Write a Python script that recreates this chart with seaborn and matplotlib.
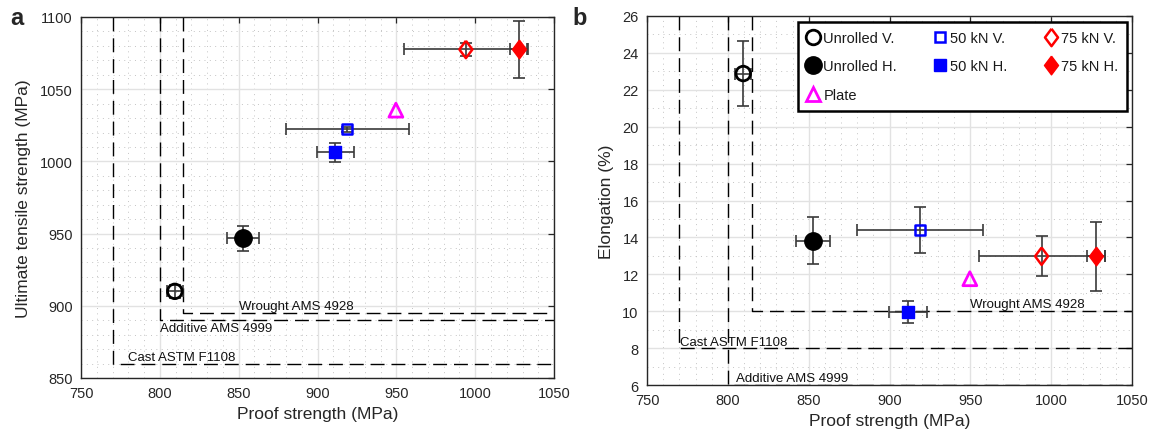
import numpy as np
import matplotlib
matplotlib.use("Agg")
import matplotlib.pyplot as plt
from matplotlib.ticker import MultipleLocator
from matplotlib.lines import Line2D
import seaborn as sns

# ---------------- data ----------------
series = ["Unrolled V.", "Unrolled H.", "50 kN V.", "50 kN H.", "75 kN V.", "75 kN H.", "Plate"]
proof = [809.5, 852.8, 918.8, 911.3, 994.1, 1027.8, 949.7]
proof_err = [5.0, 10.4, 39.0, 11.9, 39.0, 5.6, 0.0]
uts = [910.0, 946.8, 1022.2, 1006.2, 1077.5, 1077.5, 1035.5]
uts_err = [4.5, 8.8, 1.5, 6.3, 4.5, 19.6, 0.0]
elong = [22.88, 13.83, 14.39, 9.95, 12.98, 12.98, 11.76]
elong_err = [1.76, 1.25, 1.26, 0.58, 1.08, 1.87, 0.0]

legend_order = ["Unrolled V.", "Unrolled H.", "Plate", "50 kN V.", "50 kN H.", "75 kN V.", "75 kN H."]

std_names = ["Wrought AMS 4928", "Additive AMS 4999", "Cast ASTM F1108"]
std_proof = [815, 800, 770]
std_uts = [895, 890, 860]
std_elong = [10, 6, 8]

# ---------------- styles ----------------
DIAMOND = [(0, 1), (0.75, 0), (0, -1), (-0.75, 0), (0, 1)]
styles = {
    "Unrolled V.": dict(marker="o", ms=10.5, face="none", edge="black", lw=2.0),
    "Unrolled H.": dict(marker="o", ms=12.5, face="black", edge="black", lw=1.0),
    "50 kN V.": dict(marker="s", ms=7.0, face="none", edge="#0000ff", lw=1.8),
    "50 kN H.": dict(marker="s", ms=8.5, face="#0000ff", edge="#0000ff", lw=1.0),
    "75 kN V.": dict(marker=DIAMOND, ms=12.5, face="none", edge="#ff0000", lw=1.8),
    "75 kN H.": dict(marker=DIAMOND, ms=13.5, face="#ff0000", edge="#ff0000", lw=1.0),
    "Plate": dict(marker="^", ms=10.0, face="none", edge="#ff00ff", lw=2.0),
}

sns.set_theme(style="white")
plt.rcParams["font.family"] = ["Liberation Sans", "DejaVu Sans"]

fig = plt.figure(figsize=(11.54, 4.39), dpi=100)
ax_a = fig.add_axes([0.0702, 0.1367, 0.4099, 0.8223])
ax_b = fig.add_axes([0.5607, 0.1207, 0.4202, 0.8406])

TXT = "#262626"


def style_axes(ax, ymajor, yminor):
    ax.xaxis.set_major_locator(MultipleLocator(50))
    ax.xaxis.set_minor_locator(MultipleLocator(10))
    ax.yaxis.set_major_locator(MultipleLocator(ymajor))
    ax.yaxis.set_minor_locator(MultipleLocator(yminor))
    ax.set_axisbelow(True)
    ax.grid(which="major", color="#e2e2e2", lw=1.0, linestyle="-")
    ax.grid(which="minor", color="#c4c4c4", lw=0.7, linestyle=(0, (1, 4.5)))
    ax.tick_params(which="major", direction="in", length=4, width=0.9,
                   top=True, right=True, labelsize=10.5, labelcolor=TXT,
                   color="#262626", pad=6)
    ax.tick_params(which="minor", length=0)
    for s in ax.spines.values():
        s.set_color("#262626")
        s.set_linewidth(1.0)


def draw(ax, yvals, yerrs):
    for i, name in enumerate(series):
        if proof_err[i] > 0 or yerrs[i] > 0:
            ax.errorbar(proof[i], yvals[i], xerr=proof_err[i], yerr=yerrs[i],
                        fmt="none", ecolor="#3a3a3a", elinewidth=1.2,
                        capsize=4.5, capthick=1.2, zorder=3)
    for i, name in enumerate(series):
        st = styles[name]
        sns.scatterplot(x=[proof[i]], y=[yvals[i]], ax=ax, marker=st["marker"],
                        s=st["ms"] ** 2, facecolor=st["face"], edgecolor=st["edge"],
                        linewidth=st["lw"], zorder=4, legend=False)


def draw_standards(ax, yvals, xmax, ytop):
    for x0, y0 in zip(std_proof, yvals):
        ax.plot([x0, x0, xmax], [ytop, y0, y0], color="black", lw=1.0,
                linestyle=(0, (10, 5)), zorder=2)


# ---------------- panel a ----------------
ax = ax_a
style_axes(ax, 50, 10)
draw_standards(ax, std_uts, 1050, 1100)
draw(ax, uts, uts_err)
ax.set_xlim(750, 1050)
ax.set_ylim(850, 1100)
ax.set_xlabel("Proof strength (MPa)", fontsize=12.5, color=TXT, labelpad=4)
ax.set_ylabel("Ultimate tensile strength (MPa)", fontsize=12.5, color=TXT, labelpad=6)
ax.annotate(std_names[0], (850, std_uts[0]), xytext=(0, 0.5), textcoords="offset points",
            ha="left", va="bottom", fontsize=9.5, color="#111111")
ax.annotate(std_names[1], (800.3, std_uts[1]), xytext=(0, -1), textcoords="offset points",
            ha="left", va="top", fontsize=9.5, color="#111111")
ax.annotate(std_names[2], (780, std_uts[2]), xytext=(0, 0.5), textcoords="offset points",
            ha="left", va="bottom", fontsize=9.5, color="#111111")

# ---------------- panel b ----------------
ax = ax_b
style_axes(ax, 2, 1)
draw_standards(ax, std_elong, 1050, 26)
draw(ax, elong, elong_err)
ax.set_xlim(750, 1050)
ax.set_ylim(6, 26)
ax.set_xlabel("Proof strength (MPa)", fontsize=12.5, color=TXT, labelpad=4)
ax.set_ylabel("Elongation (%)", fontsize=12.5, color=TXT, labelpad=6)
ax.annotate(std_names[0], (950, std_elong[0]), xytext=(0, 1), textcoords="offset points",
            ha="left", va="bottom", fontsize=9.5, color="#111111")
ax.annotate(std_names[1], (805, std_elong[1]), xytext=(0, 1), textcoords="offset points",
            ha="left", va="bottom", fontsize=9.5, color="#111111")
ax.annotate(std_names[2], (770.3, std_elong[2]), xytext=(0, 0), textcoords="offset points",
            ha="left", va="bottom", fontsize=9.5, color="#111111")

# legend
handles = []
for name in legend_order:
    st = styles[name]
    handles.append(Line2D([], [], linestyle="none", marker=st["marker"],
                          markersize=st["ms"], markerfacecolor=st["face"],
                          markeredgecolor=st["edge"], markeredgewidth=st["lw"],
                          label=name))
leg = ax.legend(handles=handles, ncol=3, loc="upper left",
                bbox_to_anchor=(0.311, 0.732, 0.679, 0.252), mode="expand",
                fontsize=10.5, frameon=True, fancybox=False, edgecolor="black",
                framealpha=1, handlelength=0.9, handletextpad=0.25,
                labelspacing=1.0, borderpad=0.6, borderaxespad=0)
leg.get_frame().set_linewidth(1.8)
for t in leg.get_texts():
    t.set_color("#1a1a1a")

# panel letters
fig.text(0.0087, 0.943, "a", fontsize=17, weight="bold", va="baseline", ha="left")
fig.text(0.4965, 0.943, "b", fontsize=17, weight="bold", va="baseline", ha="left")

fig.savefig("out.png", dpi=100)
